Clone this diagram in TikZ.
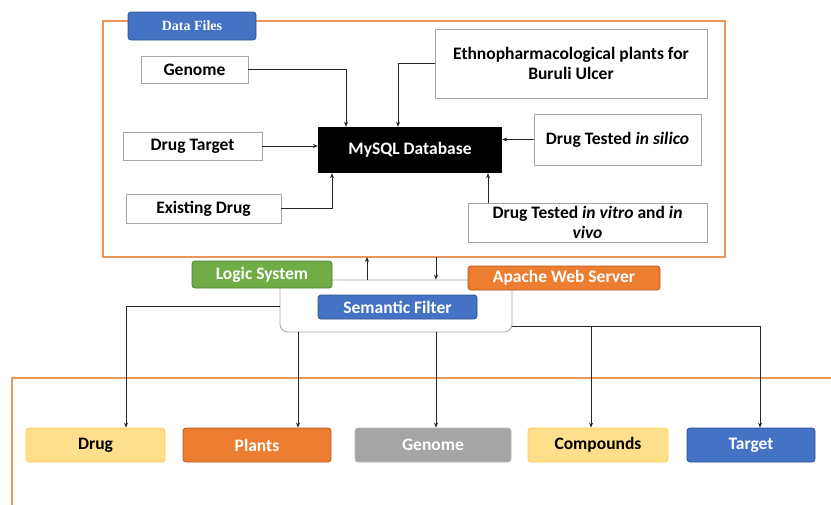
\documentclass[tikz,border=0pt]{standalone}
\usepackage{fontspec}
\setmainfont{Carlito}
\newfontfamily\serifdf{Liberation Serif}
\usetikzlibrary{arrows.meta}
\definecolor{frameor}{HTML}{E8975A}
\definecolor{boxgray}{HTML}{A6A6A6}
\definecolor{lgreen}{HTML}{70AD47}
\definecolor{lgreenb}{HTML}{507E32}
\definecolor{aorange}{HTML}{ED7D31}
\definecolor{aorangeb}{HTML}{AE5A21}
\definecolor{sblue}{HTML}{4472C4}
\definecolor{sblueb}{HTML}{2F528F}
\definecolor{ylw}{HTML}{FFDF8C}
\definecolor{ylwb}{HTML}{FFD24D}
\definecolor{ggray}{HTML}{A5A5A5}
\definecolor{ggrayb}{HTML}{8C8C8C}
\begin{document}
\begin{tikzpicture}[x=1pt,y=-1pt,
  every node/.style={font=\fontsize{17.5}{20}\selectfont\bfseries, inner sep=2pt},
  wbox/.style={draw=boxgray, line width=0.8pt, fill=white, align=center},
  rbox/.style={rounded corners=3pt, line width=0.8pt},
  orframe/.style={draw=frameor, line width=1.3pt},
  arr/.style={draw=black!85, line width=0.6pt, -{Stealth[length=5pt,width=4pt]}},
  ln/.style={draw=black!85, line width=0.6pt}]
\useasboundingbox (0,0) rectangle (831,504);
% frames
\draw[orframe] (103,21) rectangle (725,257);
\coordinate (topframebottom) at (414,257);
\draw[orframe] (840,378) -- (12,378) -- (12,520);
% data files label
\node[rbox, fill=sblue, draw=sblueb, text=white, minimum width=128pt, minimum height=28pt, font=\serifdf\fontsize{14}{16}\selectfont\bfseries] (datafiles) at (192,26) {Data Files};
% top boxes
\node[wbox, minimum width=107pt, minimum height=27pt] (genome) at (194.5,69.5) {Genome};
\node[wbox, minimum width=272pt, minimum height=69pt] (ethno) at (571,63.5) {Ethnopharmacological plants for\\Buruli Ulcer};
\node[fill=black, text=white, minimum width=184pt, minimum height=46pt] (mysql) at (410,150) {MySQL Database};
\node[wbox, minimum width=139pt, minimum height=28pt] (dtarget) at (192.5,146) {Drug Target};
\node[wbox, minimum width=155pt, minimum height=29pt] (exdrug) at (203.5,208.5) {Existing Drug};
\node[wbox, minimum width=167pt, minimum height=51pt] (silico) at (617.5,139.5) {Drug Tested \textit{in silico}};
\node[wbox, minimum width=239pt, minimum height=39pt, inner sep=0pt] (vitro) at (587.5,222.5) {Drug Tested \textit{in vitro} and \textit{in}\\\textit{vivo}};
% middle
\node[draw=boxgray, fill=white, line width=0.8pt, rounded corners=8pt, minimum width=232pt, minimum height=52pt] (cont) at (396,306) {};
\node[rbox, fill=lgreen, draw=lgreenb, text=white, minimum width=140pt, minimum height=27pt] (logic) at (262,274.5) {Logic System};
\node[rbox, fill=aorange, draw=aorangeb, text=white, minimum width=192pt, minimum height=24pt] (apache) at (564,278) {Apache Web Server};
\node[rbox, fill=sblue, draw=sblueb, text=white, minimum width=159pt, minimum height=24pt] (semantic) at (397.5,307) {Semantic Filter};
% bottom boxes
\node[rbox, fill=ylw, draw=ylwb, minimum width=139pt, minimum height=34pt] (drug) at (95.5,445) {Drug};
\node[rbox, fill=aorange, draw=aorangeb, text=white, minimum width=148pt, minimum height=34pt] (plants) at (257,445) {Plants};
\node[rbox, fill=ggray, draw=ggrayb!60, text=white, minimum width=156pt, minimum height=34pt] (genome2) at (433,445) {Genome};
\node[rbox, fill=ylw, draw=ylwb, minimum width=140pt, minimum height=34pt] (compounds) at (598,445) {Compounds};
\node[rbox, fill=sblue, draw=sblueb, text=white, minimum width=128pt, minimum height=34pt] (target) at (751,445) {Target};
% top connectors
\draw[arr] (genome.east) -| ([xshift=-64pt]mysql.north);
\draw[arr] (ethno.west) -| ([xshift=-12pt]mysql.north);
\draw[arr] (dtarget.east) -- (dtarget.east -| mysql.west);
\draw[arr] (exdrug.east) -| ([xshift=-78pt]mysql.south);
\draw[arr] (silico.west) -- (silico.west -| mysql.east);
\draw[arr] ([xshift=-99.5pt]vitro.north) -- ([xshift=-99.5pt]vitro.north |- mysql.south);
% middle connectors
\draw[arr] ([xshift=-29pt]cont.north) -- ([xshift=-29pt]cont.north |- topframebottom);
\draw[arr] ([xshift=40pt]cont.north |- topframebottom) -- ([xshift=40pt]cont.north);
% bottom connectors
\coordinate (drugtop) at ([xshift=30.5pt]drug.north);
\draw[arr] (cont.west) -| (drugtop);
\coordinate (plantstop) at ([xshift=41pt]plants.north);
\draw[arr] (plantstop |- cont.south) -- (plantstop);
\coordinate (gentop) at ([xshift=3pt]genome2.north);
\draw[arr] (gentop |- cont.south) -- (gentop);
\coordinate (bj) at ([yshift=-20pt]cont.east);
\coordinate (cmtop) at ([xshift=-7pt]compounds.north);
\coordinate (tgtop) at ([xshift=9pt]target.north);
\draw[arr] (bj) -| (tgtop);
\draw[arr] (bj -| cmtop) -- (cmtop);
\end{tikzpicture}
\end{document}
